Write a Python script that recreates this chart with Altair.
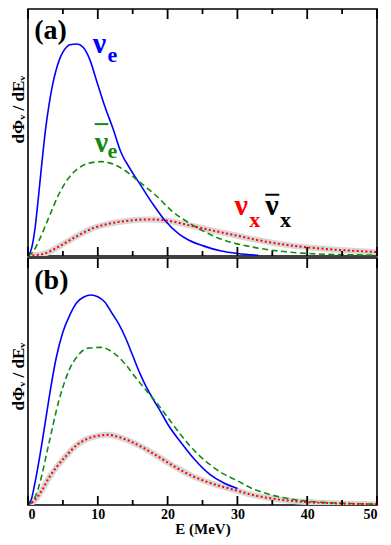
import altair as alt
import pandas as pd

# ---------------- data ----------------
# panel (a)
Ea_nue = [0, 0.5, 1.0, 1.5, 2.0, 2.5, 3.0, 3.5, 4.0, 4.5, 5.0, 5.5, 6.0, 7.0, 7.9, 8.9, 9.8, 11.0, 12.2, 13.3, 14.7, 16.0, 17.9, 19.5, 21.6, 23.0, 25.0, 27.7, 30.0, 33.0]
Fa_nue = [0, 0.03, 0.11, 0.24, 0.38, 0.51, 0.61, 0.69, 0.75, 0.795, 0.825, 0.845, 0.855, 0.858, 0.845, 0.792, 0.712, 0.606, 0.514, 0.421, 0.35, 0.293, 0.21, 0.148, 0.09, 0.065, 0.042, 0.02, 0.01, 0.003]

Ea_nuebar = [0, 0.8, 1.6, 3.0, 4.4, 5.8, 7.2, 8.6, 10.5, 11.9, 13.8, 15.7, 18.4, 20.7, 23.0, 25.4, 28.0, 31.5, 34.0, 37.0, 41.7, 46.0, 50.0]
Fa_nuebar = [0, 0.02, 0.064, 0.157, 0.249, 0.315, 0.355, 0.375, 0.382, 0.375, 0.348, 0.306, 0.243, 0.18, 0.135, 0.097, 0.065, 0.04, 0.027, 0.017, 0.008, 0.005, 0.003]

Ea_nux = [0, 1.0, 2.5, 4.4, 6.8, 9.1, 11.5, 13.8, 16.0, 17.5, 19.8, 23.0, 26.3, 30.0, 33.0, 37.0, 42.0, 46.0, 50.0]
Fa_nux = [0, 0.003, 0.011, 0.038, 0.077, 0.11, 0.13, 0.141, 0.147, 0.148, 0.144, 0.125, 0.104, 0.082, 0.064, 0.045, 0.03, 0.022, 0.016]

# panel (b)
Eb_nue = [0, 0.5, 1.0, 2.0, 3.0, 4.0, 5.0, 6.0, 7.0, 8.0, 9.0, 10.0, 11.0, 12.0, 13.0, 14.0, 15.0, 16.0, 17.0, 18.0, 19.0, 20.0, 22.0, 24.0, 26.0, 28.0, 30.0]
Fb_nue = [0, 0.025, 0.09, 0.25, 0.43, 0.59, 0.70, 0.77, 0.82, 0.842, 0.85, 0.843, 0.822, 0.778, 0.733, 0.675, 0.605, 0.535, 0.475, 0.425, 0.378, 0.328, 0.25, 0.18, 0.125, 0.09, 0.067]

Eb_nuebar = [0, 0.8, 1.5, 3.0, 4.4, 5.8, 7.2, 8.6, 10.4, 12.3, 14.0, 15.3, 17.2, 19.1, 20.5, 22.0, 24.0, 26.0, 28.0, 30.0, 32.0, 35.0, 38.0, 42.0, 46.0, 50.0]
Fb_nuebar = [0, 0.02, 0.07, 0.25, 0.42, 0.54, 0.607, 0.635, 0.638, 0.615, 0.568, 0.52, 0.455, 0.389, 0.336, 0.28, 0.215, 0.165, 0.126, 0.098, 0.068, 0.04, 0.022, 0.011, 0.006, 0.003]

Eb_nux = [0, 1.0, 2.0, 3.0, 4.0, 5.5, 7.0, 8.5, 10.0, 11.5, 13.0, 14.2, 16.5, 19.0, 21.2, 23.5, 26.0, 28.0, 30.0, 32.0, 35.0, 38.0, 42.0, 46.0, 50.0]
Fb_nux = [0, 0.02, 0.06, 0.11, 0.15, 0.2, 0.243, 0.268, 0.28, 0.284, 0.275, 0.263, 0.232, 0.19, 0.152, 0.118, 0.09, 0.073, 0.058, 0.042, 0.026, 0.016, 0.009, 0.005, 0.003]

major_ticks = [0, 10, 20, 30, 40, 50]
minor_ticks = [5, 15, 25, 35, 45]
x_tick_labels = [0, 10, 20, 30, 40, 50]

# ---------------- styling ----------------
FONT = "Liberation Serif"
W, H = 349, 247
BLUE = "#0000ff"
GREEN = "#138a13"
RED = "#ff0000"
BAND = "#d6d6d6"

xs = alt.Scale(domain=[0, 50], nice=False, zero=False)
ys = alt.Scale(domain=[0, 1], nice=False, zero=False)


def line_df(E, F):
    return pd.DataFrame({"E": E, "F": F})


def make_panel(E1, F1, E2, F2, E3, F3, x_axis, title_y, top_minor, labels):
    y_axis = alt.Axis(labels=False, ticks=False, domain=False, grid=False,
                      title="dΦᵥ / dEᵥ", titleFont=FONT, titleFontSize=17,
                      titleFontWeight="bold", titleColor="black", titlePadding=1,
                      titleY=title_y, titleAlign="center")
    X = alt.X("E:Q", scale=xs, axis=x_axis)
    Y = alt.Y("F:Q", scale=ys, axis=y_axis)

    def xdat(v):
        return alt.XDatum(v, type="quantitative", scale=xs, axis=x_axis)

    def ydat(v):
        return alt.YDatum(v, type="quantitative", scale=ys, axis=y_axis)

    def line(E, F, **kw):
        return alt.Chart(line_df(E, F)).mark_line(interpolate="monotone", clip=True, **kw).encode(x=X, y=Y)

    def tick_marks(vals, edge, length):
        # inward tick marks: vertical ticks centred half their length inside the frame edge
        centre = edge + (length / 2) / H if edge == 0 else edge - (length / 2) / H
        return alt.Chart(pd.DataFrame({"E": vals})).mark_tick(
            orient="vertical", color="black", size=length, thickness=1.8, opacity=1
        ).encode(x=X, y=ydat(centre))

    layers = [
        line(E3, F3, color=BAND, strokeWidth=6),
        line(E1, F1, color=BLUE, strokeWidth=1.6),
        line(E2, F2, color=GREEN, strokeWidth=1.6, strokeDash=[6, 3.5]),
        line(E3, F3, color=RED, strokeWidth=2, strokeDash=[2, 2.4]),
        tick_marks(major_ticks, 1, 10),
        tick_marks(major_ticks, 0, 9),
        tick_marks(minor_ticks, 0, 5),
    ]
    if top_minor:
        layers.append(tick_marks(minor_ticks, 1, 5))
    for kind, a, b, c, size, color in labels:
        if kind == "t":
            layers.append(alt.Chart(pd.DataFrame({"t": [0]})).mark_text(
                text=a, font=FONT, fontWeight="bold", fontSize=size, color=color,
                align="left", baseline="alphabetic"
            ).encode(x=xdat(b), y=ydat(c)))
        else:
            layers.append(alt.Chart(pd.DataFrame({"t": [0]})).mark_rule(
                color=color, strokeWidth=2
            ).encode(x=xdat(a), x2=alt.X2Datum(b), y=ydat(c)))
    return alt.layer(*layers).properties(width=W, height=H)


x_axis_b = alt.Axis(values=x_tick_labels, format="d", labelFont=FONT, labelFontSize=14,
                    labelFontWeight="bold", labelColor="black", labelPadding=2,
                    ticks=False, domain=False, grid=False, title="E (MeV)",
                    titleFont=FONT, titleFontSize=15, titleFontWeight="bold",
                    titleColor="black", titlePadding=0)

labels_a = [
    ("t", "(a)", 0.9, 0.879, 28, "black"),
    ("t", "ν", 9.27, 0.823, 30, BLUE),
    ("t", "e", 11.4, 0.784, 22, BLUE),
    ("t", "ν", 9.55, 0.423, 30, GREEN),
    ("t", "e", 11.4, 0.395, 22, GREEN),
    ("r", 9.55, 11.5, 0.534, 0, GREEN),
    ("t", "ν", 29.6, 0.165, 30, RED),
    ("t", "x", 31.7, 0.117, 22, RED),
    ("t", "ν", 34.0, 0.165, 30, "black"),
    ("t", "x", 36.1, 0.117, 22, "black"),
    ("r", 34.0, 36.0, 0.248, 0, "black"),
]
labels_b = [("t", "(b)", 0.9, 0.874, 28, "black")]

pa = make_panel(Ea_nue, Fa_nue, Ea_nuebar, Fa_nuebar, Ea_nux, Fa_nux, None, 100, True, labels_a)
pb = make_panel(Eb_nue, Fb_nue, Eb_nuebar, Fb_nuebar, Eb_nux, Fb_nux, x_axis_b, 118, False, labels_b)

chart = alt.vconcat(pa, pb, spacing=0).properties(
    padding={"left": 0, "top": 0, "right": 0, "bottom": 0}
).configure_view(stroke="black", strokeWidth=1.6).configure_axis(grid=False)

chart.save("out.html", embed_options={"renderer": "svg", "actions": False})
